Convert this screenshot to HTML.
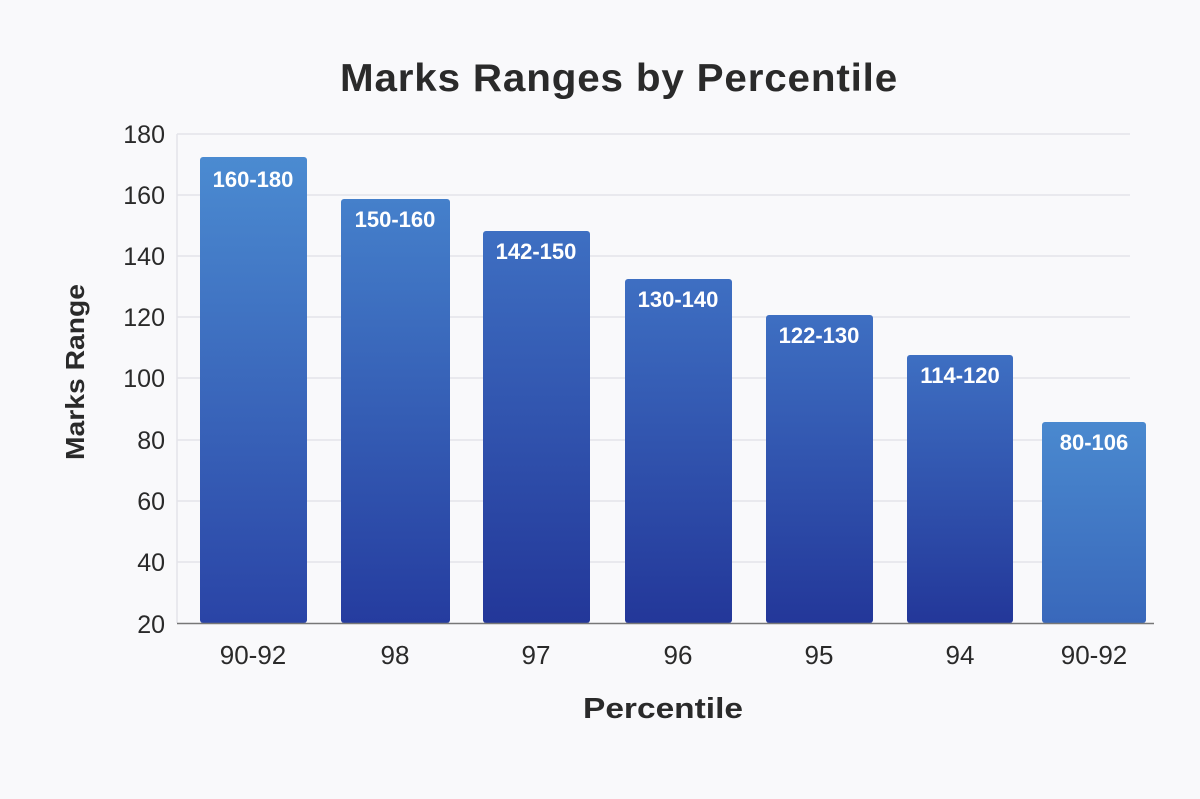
<!DOCTYPE html>
<html><head><meta charset="utf-8"><style>
html,body{margin:0;padding:0;background:#f9f9fb;}
svg{display:block;font-family:"Liberation Sans","DejaVu Sans",sans-serif;}
</style></head><body>
<svg width="1200" height="799" viewBox="0 0 1200 799" xmlns="http://www.w3.org/2000/svg">
<defs>
<linearGradient id="g1" x1="0" y1="0" x2="0" y2="1"><stop offset="0" stop-color="#4b8bd1"/><stop offset="1" stop-color="#2a44a6"/></linearGradient>
<linearGradient id="g2" x1="0" y1="0" x2="0" y2="1"><stop offset="0" stop-color="#4580cb"/><stop offset="1" stop-color="#253c9f"/></linearGradient>
<linearGradient id="g3" x1="0" y1="0" x2="0" y2="1"><stop offset="0" stop-color="#3e6fc2"/><stop offset="1" stop-color="#233799"/></linearGradient>
<linearGradient id="g7" x1="0" y1="0" x2="0" y2="1"><stop offset="0" stop-color="#4a89cf"/><stop offset="1" stop-color="#3968bb"/></linearGradient>
</defs>
<rect width="1200" height="799" fill="#f9f9fb"/>
<text x="619" y="91" text-anchor="middle" font-size="39" font-weight="bold" fill="#2a2a2a" letter-spacing="0.8" textLength="558" lengthAdjust="spacingAndGlyphs">Marks Ranges by Percentile</text>
<g stroke="#e4e4ea" stroke-width="1.5">
<line x1="177" x2="1130" y1="134" y2="134"/><line x1="177" x2="1130" y1="195" y2="195"/><line x1="177" x2="1130" y1="256" y2="256"/><line x1="177" x2="1130" y1="317" y2="317"/><line x1="177" x2="1130" y1="378" y2="378"/><line x1="177" x2="1130" y1="440" y2="440"/><line x1="177" x2="1130" y1="501" y2="501"/><line x1="177" x2="1130" y1="562" y2="562"/>
</g>
<line x1="177" x2="177" y1="134" y2="623" stroke="#e4e4ea" stroke-width="1.5"/>
<g font-size="25" fill="#2a2a2a" text-anchor="end">
<text x="165" y="143">180</text><text x="165" y="204">160</text><text x="165" y="265">140</text><text x="165" y="326">120</text><text x="165" y="387">100</text><text x="165" y="449">80</text><text x="165" y="510">60</text><text x="165" y="571">40</text><text x="165" y="633">20</text>
</g>
<text transform="translate(84,372) rotate(-90)" text-anchor="middle" font-size="26" font-weight="bold" fill="#2a2a2a" textLength="176" lengthAdjust="spacingAndGlyphs">Marks Range</text>
<rect x="200" y="157" width="107" height="466" rx="3" fill="url(#g1)"/>
<rect x="341" y="199" width="109" height="424" rx="3" fill="url(#g2)"/>
<rect x="483" y="231" width="107" height="392" rx="3" fill="url(#g3)"/>
<rect x="625" y="279" width="107" height="344" rx="3" fill="url(#g3)"/>
<rect x="766" y="315" width="107" height="308" rx="3" fill="url(#g3)"/>
<rect x="907" y="355" width="106" height="268" rx="3" fill="url(#g3)"/>
<rect x="1042" y="422" width="104" height="201" rx="3" fill="url(#g7)"/>
<line x1="177" x2="1154" y1="623.5" y2="623.5" stroke="#777" stroke-width="1.5"/>
<g font-size="22" font-weight="bold" fill="#fff" text-anchor="middle">
<text x="253" y="187">160-180</text><text x="395" y="227">150-160</text><text x="536" y="259">142-150</text><text x="678" y="307">130-140</text><text x="819" y="343">122-130</text><text x="960" y="383">114-120</text><text x="1094" y="450">80-106</text>
</g>
<g font-size="26" fill="#2a2a2a" text-anchor="middle">
<text x="253" y="664">90-92</text><text x="395" y="664">98</text><text x="536" y="664">97</text><text x="678" y="664">96</text><text x="819" y="664">95</text><text x="960" y="664">94</text><text x="1094" y="664">90-92</text>
</g>
<text x="663" y="718" text-anchor="middle" font-size="29" font-weight="bold" fill="#2a2a2a" textLength="160" lengthAdjust="spacingAndGlyphs">Percentile</text>
</svg>
</body></html>
